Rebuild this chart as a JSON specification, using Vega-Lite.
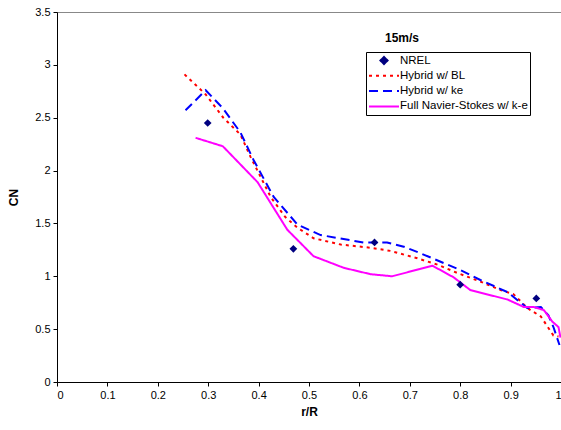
{
  "$schema": "https://vega.github.io/schema/vega-lite/v6.json",
  "width": 504,
  "height": 370,
  "autosize": {"type": "none"},
  "padding": {"left": 57, "top": 12, "right": 0, "bottom": 48},
  "background": "white",
  "config": {
    "font": "Liberation Sans",
    "view": {"stroke": "#888888", "strokeWidth": 1},
    "axis": {"grid": false, "domainColor": "black", "tickColor": "black", "labelColor": "black", "titleColor": "black", "labelFont": "Liberation Sans", "titleFont": "Liberation Sans", "labelFontSize": 11, "titleFontSize": 12, "titleFontWeight": "bold", "tickSize": 4, "labelPadding": 3}
  },
  "title": {"text": "15m/s", "anchor": "middle", "dx": 93, "offset": -39, "fontSize": 12, "fontWeight": "bold", "font": "Liberation Sans", "color": "black"},
  "data": {"values": [
    {"series": "NREL", "x": 0.299, "y": 2.45},
    {"series": "NREL", "x": 0.469, "y": 1.26},
    {"series": "NREL", "x": 0.630, "y": 1.32},
    {"series": "NREL", "x": 0.800, "y": 0.92},
    {"series": "NREL", "x": 0.951, "y": 0.79},

    {"series": "Hybrid w/ BL", "x": 0.253, "y": 2.91},
    {"series": "Hybrid w/ BL", "x": 0.295, "y": 2.72},
    {"series": "Hybrid w/ BL", "x": 0.330, "y": 2.50},
    {"series": "Hybrid w/ BL", "x": 0.364, "y": 2.34},
    {"series": "Hybrid w/ BL", "x": 0.384, "y": 2.13},
    {"series": "Hybrid w/ BL", "x": 0.404, "y": 1.94},
    {"series": "Hybrid w/ BL", "x": 0.424, "y": 1.75},
    {"series": "Hybrid w/ BL", "x": 0.453, "y": 1.56},
    {"series": "Hybrid w/ BL", "x": 0.477, "y": 1.46},
    {"series": "Hybrid w/ BL", "x": 0.509, "y": 1.36},
    {"series": "Hybrid w/ BL", "x": 0.563, "y": 1.30},
    {"series": "Hybrid w/ BL", "x": 0.622, "y": 1.27},
    {"series": "Hybrid w/ BL", "x": 0.662, "y": 1.24},
    {"series": "Hybrid w/ BL", "x": 0.715, "y": 1.17},
    {"series": "Hybrid w/ BL", "x": 0.755, "y": 1.11},
    {"series": "Hybrid w/ BL", "x": 0.795, "y": 1.03},
    {"series": "Hybrid w/ BL", "x": 0.840, "y": 0.95},
    {"series": "Hybrid w/ BL", "x": 0.880, "y": 0.87},
    {"series": "Hybrid w/ BL", "x": 0.906, "y": 0.83},
    {"series": "Hybrid w/ BL", "x": 0.933, "y": 0.70},
    {"series": "Hybrid w/ BL", "x": 0.960, "y": 0.62},
    {"series": "Hybrid w/ BL", "x": 0.985, "y": 0.44},
    {"series": "Hybrid w/ BL", "x": 0.995, "y": 0.43},

    {"series": "Hybrid w/ ke", "x": 0.255, "y": 2.57},
    {"series": "Hybrid w/ ke", "x": 0.295, "y": 2.76},
    {"series": "Hybrid w/ ke", "x": 0.329, "y": 2.59},
    {"series": "Hybrid w/ ke", "x": 0.364, "y": 2.36},
    {"series": "Hybrid w/ ke", "x": 0.390, "y": 2.10},
    {"series": "Hybrid w/ ke", "x": 0.430, "y": 1.75},
    {"series": "Hybrid w/ ke", "x": 0.477, "y": 1.49},
    {"series": "Hybrid w/ ke", "x": 0.523, "y": 1.39},
    {"series": "Hybrid w/ ke", "x": 0.608, "y": 1.32},
    {"series": "Hybrid w/ ke", "x": 0.655, "y": 1.32},
    {"series": "Hybrid w/ ke", "x": 0.688, "y": 1.28},
    {"series": "Hybrid w/ ke", "x": 0.720, "y": 1.22},
    {"series": "Hybrid w/ ke", "x": 0.760, "y": 1.14},
    {"series": "Hybrid w/ ke", "x": 0.800, "y": 1.06},
    {"series": "Hybrid w/ ke", "x": 0.840, "y": 0.965},
    {"series": "Hybrid w/ ke", "x": 0.894, "y": 0.85},
    {"series": "Hybrid w/ ke", "x": 0.933, "y": 0.70},
    {"series": "Hybrid w/ ke", "x": 0.960, "y": 0.71},
    {"series": "Hybrid w/ ke", "x": 0.975, "y": 0.63},
    {"series": "Hybrid w/ ke", "x": 0.985, "y": 0.52},
    {"series": "Hybrid w/ ke", "x": 0.997, "y": 0.35},

    {"series": "Full Navier-Stokes w/ k-e", "x": 0.275, "y": 2.31},
    {"series": "Full Navier-Stokes w/ k-e", "x": 0.329, "y": 2.23},
    {"series": "Full Navier-Stokes w/ k-e", "x": 0.398, "y": 1.89},
    {"series": "Full Navier-Stokes w/ k-e", "x": 0.457, "y": 1.44},
    {"series": "Full Navier-Stokes w/ k-e", "x": 0.509, "y": 1.19},
    {"series": "Full Navier-Stokes w/ k-e", "x": 0.569, "y": 1.08},
    {"series": "Full Navier-Stokes w/ k-e", "x": 0.622, "y": 1.02},
    {"series": "Full Navier-Stokes w/ k-e", "x": 0.665, "y": 1.00},
    {"series": "Full Navier-Stokes w/ k-e", "x": 0.745, "y": 1.10},
    {"series": "Full Navier-Stokes w/ k-e", "x": 0.787, "y": 0.99},
    {"series": "Full Navier-Stokes w/ k-e", "x": 0.820, "y": 0.87},
    {"series": "Full Navier-Stokes w/ k-e", "x": 0.894, "y": 0.78},
    {"series": "Full Navier-Stokes w/ k-e", "x": 0.926, "y": 0.71},
    {"series": "Full Navier-Stokes w/ k-e", "x": 0.946, "y": 0.71},
    {"series": "Full Navier-Stokes w/ k-e", "x": 0.966, "y": 0.68},
    {"series": "Full Navier-Stokes w/ k-e", "x": 0.983, "y": 0.57},
    {"series": "Full Navier-Stokes w/ k-e", "x": 0.995, "y": 0.52},
    {"series": "Full Navier-Stokes w/ k-e", "x": 0.999, "y": 0.42}
  ]},
  "encoding": {
    "x": {"field": "x", "type": "quantitative", "title": "r/R", "scale": {"domain": [0, 1], "nice": false}, "axis": {"values": [0,0.1,0.2,0.3,0.4,0.5,0.6,0.7,0.8,0.9,1], "format": ".1~f", "titlePadding": 6}},
    "y": {"field": "y", "type": "quantitative", "title": "CN", "scale": {"domain": [0, 3.5], "nice": false}, "axis": {"values": [0,0.5,1,1.5,2,2.5,3,3.5], "format": ".1~f", "titlePadding": 14}}
  },
  "layer": [
    {
      "transform": [{"filter": "datum.series !== 'NREL'"}],
      "mark": {"type": "line", "strokeWidth": 2, "clip": true},
      "encoding": {
        "color": {"field": "series", "type": "nominal", "sort": null,
          "scale": {"domain": ["NREL", "Hybrid w/ BL", "Hybrid w/ ke", "Full Navier-Stokes w/ k-e"], "range": ["#000080", "#FF0000", "#0000FF", "#FF00FF"]},
          "legend": {"title": null, "orient": "none", "legendX": 309, "legendY": 40, "strokeColor": "black", "padding": 2, "fillColor": "white", "labelFontSize": 11.5, "labelColor": "black", "labelFont": "Liberation Sans", "rowPadding": 2.3, "symbolStrokeWidth": 2, "labelOffset": 0, "clipHeight": 13,
            "encode": {"symbols": {"update": {
              "shape": {"signal": "datum.value === 'NREL' ? 'diamond' : 'stroke'"},
              "size": {"signal": "datum.value === 'NREL' ? 50 : 900"},
              "fill": {"signal": "datum.value === 'NREL' ? '#000080' : 'transparent'"},
              "strokeDash": {"signal": "datum.value === 'Hybrid w/ BL' ? [3,4] : datum.value === 'Hybrid w/ ke' ? [9,5] : [1,0]"}
            }}}}
        },
        "strokeDash": {"field": "series", "type": "nominal", "legend": null,
          "scale": {"domain": ["NREL", "Hybrid w/ BL", "Hybrid w/ ke", "Full Navier-Stokes w/ k-e"], "range": [[1,0],[3,4],[9,5],[1,0]]}}
      }
    },
    {
      "transform": [{"filter": "datum.series === 'NREL'"}],
      "mark": {"type": "point", "shape": "diamond", "filled": true, "size": 60, "opacity": 1, "color": "#000080"}
    }
  ]
}
